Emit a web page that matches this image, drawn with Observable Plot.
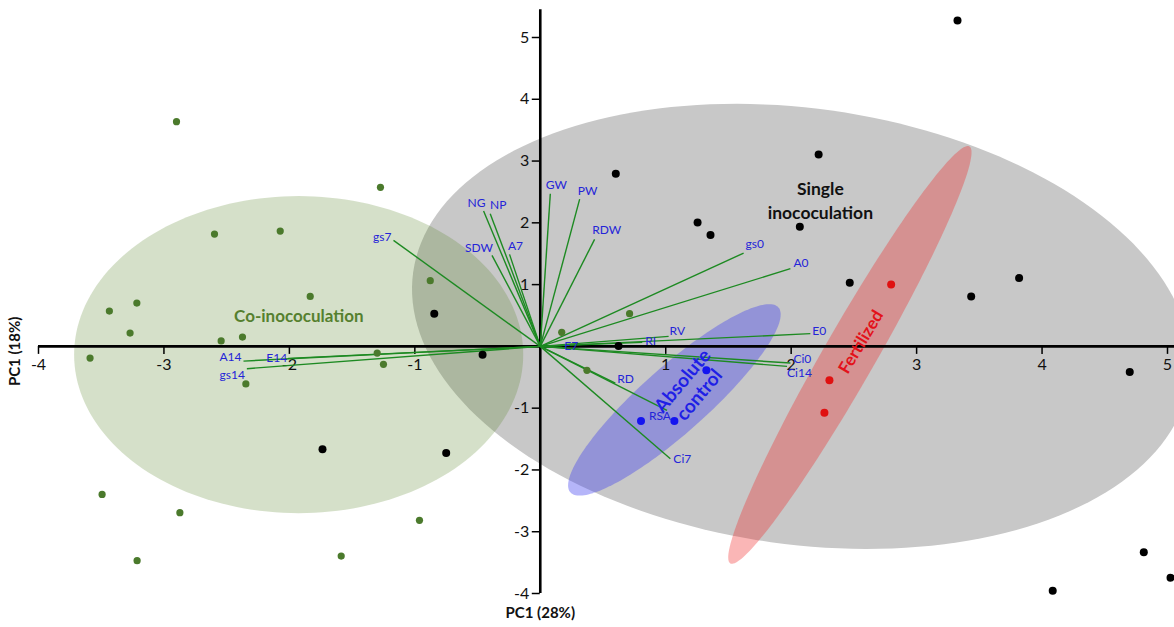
<!DOCTYPE html>
<html><head><meta charset="utf-8">
<script src="https://cdn.jsdelivr.net/npm/d3@7"></script>
<script src="https://cdn.jsdelivr.net/npm/@observablehq/plot@0.6"></script>
<style>
html,body{margin:0;padding:0;background:#fff;}
#chart{width:1174px;height:627px;}
</style></head><body><div id="chart"></div>
<script>
// ---- scores (PC1, PC2) per treatment group ----
const singlePC1 = [3.326, 2.219, 0.602, 1.254, 1.357, 2.069, 2.467, 3.817, 3.435, -0.845, -0.460, 0.624, 4.699, -1.736, -0.750, 4.811, 5.024, 4.085];
const singlePC2 = [5.277, 3.108, 2.795, 2.007, 1.802, 1.938, 1.031, 1.106, 0.809, 0.529, -0.134, 0.008, -0.416, -1.667, -1.727, -3.334, -3.744, -3.954];
const coPC1 = [-2.900, -1.274, -2.597, -2.073, -1.834, -3.216, -3.435, -3.270, -2.544, -2.374, -3.589, -1.300, -1.250, -2.347, -0.877, -3.493, -2.873, -3.214, -1.587, -0.963, 0.712, 0.372, 0.171];
const coPC2 = [3.637, 2.574, 1.818, 1.866, 0.809, 0.701, 0.571, 0.215, 0.089, 0.150, -0.189, -0.108, -0.291, -0.607, 1.063, -2.396, -2.692, -3.469, -3.394, -2.816, 0.529, -0.388, 0.227];
const controlPC1 = [1.324, 0.803, 1.069];
const controlPC2 = [-0.388, -1.209, -1.209];
const fertPC1 = [2.797, 2.305, 2.265];
const fertPC2 = [1.003, -0.550, -1.073];

// ---- variable loadings ----
const loadingNames = ["gs7","NG","NP","SDW","A7","GW","PW","RDW","gs0","A0","RV","RI","E0","E7","Ci0","Ci14","RD","RSA","Ci7","A14","E14","gs14"];
const loadingPC1 = [-1.170, -0.452, -0.399, -0.385, -0.245, 0.080, 0.314, 0.433, 1.621, 1.994, 1.023, 0.813, 2.153, 0.175, 1.994, 1.967, 0.598, 1.010, 1.037, -2.366, -2.010, -2.339];
const loadingPC2 = [1.716, 2.190, 2.148, 1.473, 1.489, 2.472, 2.384, 1.732, 1.510, 1.258, 0.162, 0.065, 0.206, -0.016, -0.270, -0.324, -0.594, -1.036, -1.818, -0.238, -0.194, -0.361];

// ---- group ellipses: centre and semi-axis vectors (data units) ----
const ellipseGroups = ["Single inococulation", "Co-inococulation", "Absolute control", "Fertilized"];
const ellipseCX = [2.081, -1.926, 1.069, 2.468];
const ellipseCY = [0.324, -0.133, -0.866, -0.138];
const ellipseUX = [3.094, 1.790, 0.829, 0.953];
const ellipseUY = [-0.882, 0, 1.497, 3.375];
const ellipseVX = [-0.242, 0, 0.175, 0.180];
const ellipseVY = [-3.493, 2.566, -0.400, -0.209];

// ---- ticks ----
const xTicks = [-4, -3, -2, -1, 1, 2, 3, 4, 5];
const yTicks = [-4, -3, -2, -1, 1, 2, 3, 4, 5];

// ---- build tables ----
const pts = (xs, ys) => xs.map((x, i) => ({x, y: ys[i]}));
const single = pts(singlePC1, singlePC2);
const co = pts(coPC1, coPC2);
const control = pts(controlPC1, controlPC2);
const fert = pts(fertPC1, fertPC2);
const loadings = loadingNames.map((name, i) => ({name, x: loadingPC1[i], y: loadingPC2[i]}));

function ellipse(i) {
  return d3.range(0, 181).map(k => {
    const t = 2 * Math.PI * k / 180;
    return {x: ellipseCX[i] + ellipseUX[i] * Math.cos(t) + ellipseVX[i] * Math.sin(t),
            y: ellipseCY[i] + ellipseUY[i] * Math.cos(t) + ellipseVY[i] * Math.sin(t)};
  });
}
const ellipseFill = ["#c8c8c8", "#5a852b", "#3c3cf0", "#f02020"];
const ellipseOpacity = [1, 0.255, 0.38, 0.33];

// label placement (anchor, dx, dy) for loading labels
const labelPlace = {
  gs7: ["end", -2, -3], NG: ["middle", -7, -8], NP: ["middle", 8, -9], SDW: ["middle", -13, -7],
  A7: ["middle", 6, -8], GW: ["middle", 6, -9], PW: ["middle", 8, -8], RDW: ["middle", 12, -9],
  gs0: ["start", 2, -9], A0: ["start", 3, -6], RV: ["start", 1, -5], RI: ["start", 3, -1],
  E0: ["start", 2, -3], E7: ["middle", 9, -1], Ci0: ["start", 3, -4], Ci14: ["start", 0, 7],
  RD: ["start", 2, -4], RSA: ["middle", -7, 6], Ci7: ["start", 3, 0],
  A14: ["end", -2, -4], E14: ["end", -1, 0], gs14: ["end", -2, 6]
};
const labelFont = "Lato, 'Open Sans', sans-serif";

const marks = [];
ellipseGroups.forEach((g, i) => {
  marks.push(Plot.line(ellipse(i), {x: "x", y: "y", fill: ellipseFill[i], fillOpacity: ellipseOpacity[i], stroke: "none", curve: "linear-closed"}));
});
// axes
marks.push(
  Plot.ruleY([0], {x1: -4, x2: 5.06, stroke: "black", strokeWidth: 2.6}),
  Plot.ruleX([0], {y1: -4, y2: 5.45, stroke: "black", strokeWidth: 2.6}),
  Plot.ruleX(xTicks, {x: d => d, y1: 0, y2: 0, insetBottom: -8, stroke: "black", strokeWidth: 1.5}),
  Plot.ruleY(yTicks, {y: d => d, x1: 0, x2: 0, insetLeft: -8, stroke: "black", strokeWidth: 1.5}),
  Plot.text(xTicks, {x: d => d, y: 0, text: d => String(d), dy: 18, fontSize: 16, fill: "#111"}),
  Plot.text(yTicks, {x: 0, y: d => d, text: d => String(d), textAnchor: "end", dx: -11, fontSize: 16, fill: "#111"})
);
// loading vectors
marks.push(Plot.link(loadings, {x1: 0, y1: 0, x2: "x", y2: "y", stroke: "#1d8a22", strokeWidth: 1.4}));
// points
marks.push(
  Plot.dot(co, {x: "x", y: "y", r: 3.6, fill: "#4b7a2c", stroke: "none"}),
  Plot.dot(single, {x: "x", y: "y", r: 4, fill: "black", stroke: "none"}),
  Plot.dot(control, {x: "x", y: "y", r: 4, fill: "#1414f0", stroke: "none"}),
  Plot.dot(fert, {x: "x", y: "y", r: 4, fill: "#e01010", stroke: "none"})
);
// loading labels
loadings.forEach(d => {
  const p = labelPlace[d.name];
  marks.push(Plot.text([d], {x: "x", y: "y", text: "name", textAnchor: p[0], dx: p[1], dy: p[2], fontSize: 12, fill: "#2424d8", fontFamily: labelFont}));
});
// group annotations
marks.push(
  Plot.text([ellipseGroups[1]], {x: -1.925, y: 0.485, text: d => d, fontSize: 17, fontWeight: 700, fill: "#55802f"}),
  Plot.text(["Single\ninococulation"], {x: 2.233, y: 2.38, text: d => d, fontSize: 17.5, fontWeight: 700, fill: "#111", lineHeight: 1.4}),
  Plot.text(["Absolute\ncontrol"], {x: 1.196, y: -0.664, text: d => d, fontSize: 19, fontWeight: 700, fill: "#1f1fe6", rotate: -50, lineHeight: 1.15}),
  Plot.text([ellipseGroups[3]], {x: 2.557, y: 0.07, text: d => d, fontSize: 17, fontWeight: 700, fill: "#e3121a", rotate: -59}),
  Plot.text(["PC1 (28%)"], {x: 0, y: -4, text: d => d, dy: 20, fontSize: 15, fontWeight: 700, fill: "#111"}),
  Plot.text(["PC1 (18%)"], {x: -4, y: 0, text: d => d, dx: -23, dy: 5, rotate: -90, fontSize: 15, fontWeight: 700, fill: "#111"})
);

const chart = Plot.plot({
  width: 1174, height: 627,
  marginLeft: 38, marginRight: 7, marginTop: 37, marginBottom: 34,
  x: {domain: [-4, 5], axis: null},
  y: {domain: [-4, 5], axis: null},
  style: {fontFamily: "Lato, 'Open Sans', sans-serif", background: "white", overflow: "visible"},
  marks
});
document.getElementById("chart").append(chart);
</script>
</body></html>
